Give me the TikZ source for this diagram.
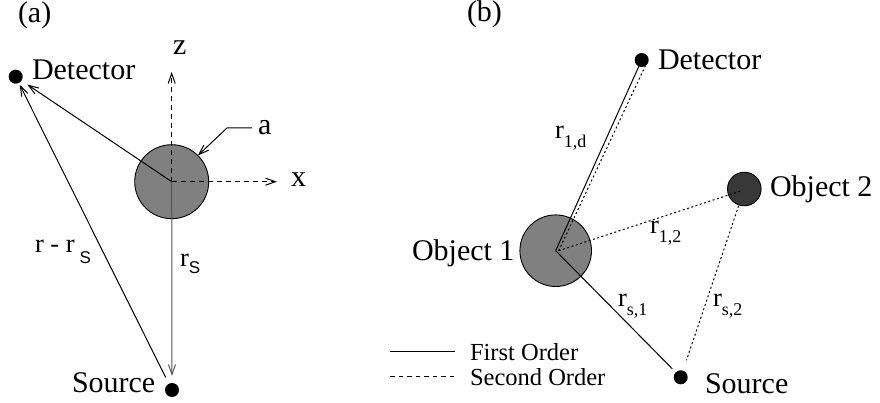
\documentclass[tikz,border=0pt]{standalone}
\usepackage{fontspec}
\setmainfont{Liberation Serif}
\newfontfamily\hsans{Liberation Sans}
\usetikzlibrary{arrows.meta,calc}
\definecolor{objgray}{RGB}{128,128,128}
\definecolor{objdark}{RGB}{56,56,56}
\definecolor{linegray}{RGB}{85,85,85}
\newcommand{\subsz}{\fontsize{18}{20}\selectfont}
\newcommand{\sansub}{\hsans\fontsize{17}{19}\selectfont}
\begin{document}
\begin{tikzpicture}[x=1pt,y=-1pt,
  every node/.style={inner sep=0pt,outer sep=0pt},
  lbl/.style={font=\fontsize{30}{34}\selectfont},
  rlbl/.style={font=\fontsize{26.5}{30}\selectfont},
  sml/.style={font=\fontsize{24.5}{28}\selectfont},
  dot/.style={circle,fill=black,minimum size=14pt},
  ln/.style={line width=1pt},
  arr/.style={ln,-{Straight Barb[length=10pt,width=7pt]}},
  axisln/.style={ln,dash pattern=on 5pt off 4pt},
  dotln/.style={ln,dash pattern=on 2pt off 2.5pt},
  dashln/.style={ln,dash pattern=on 4.5pt off 4pt},
  obj/.style={circle,draw=black,line width=0.9pt}]
\useasboundingbox (0,0) rectangle (880,403);

% ---------- panel (a) ----------
\node[lbl,anchor=base west] (la) at (18,23) {(a)};
\node[obj,fill=objgray,minimum size=74pt] (c1) at (171.7,181.7) {};
\node[dot] (deta) at (15.7,76.7) {};
\node[dot] (srca) at (172,390) {};
\node[lbl,anchor=base west] (detal) at (32,80) {Detector};
\node[lbl,anchor=base west] (srcal) at (72,392) {Source};
\node[lbl,anchor=base west] (zl) at (173,55) {z};
\node[lbl,anchor=base west] (xl) at (291,187) {x};
\node[lbl,anchor=base west] (al) at (258,135) {a};
\coordinate (zend) at (171.7,72);
\coordinate (xend) at (277,181.7);
\coordinate (astart) at (252,128);
\coordinate (abend) at (227,128);

\draw[axisln,-{Straight Barb[length=10pt,width=7pt]}] (c1.center) -- (zend);
\draw[axisln,-{Straight Barb[length=10pt,width=7pt]}] (c1.center) -- (xend);
\draw[arr] (astart) -- (abend) -- (c1.45);
\draw[arr,shorten >=7pt] (c1.center) -- (deta);
\draw[arr,shorten >=2pt,shorten <=7pt] (srca) -- (deta);
\draw[arr,draw=linegray,shorten >=7pt] (c1.center) -- (srca);

\node[rlbl,anchor=base west] (rrs) at (35,253) {r - r\raisebox{-10pt}{\hspace{5pt}\sansub S}};
\node[rlbl,anchor=base west] (rs) at (180,266) {r\raisebox{-7pt}{\sansub S}};

% ---------- panel (b) ----------
\node[lbl,anchor=base west] (lb) at (467,22) {(b)};
\node[obj,fill=objgray,minimum size=71.6pt] (o1) at (555.7,250.7) {};
\node[obj,fill=objdark,minimum size=33.6pt] (o2) at (744.3,189) {};
\node[dot] (detb) at (641.7,60) {};
\node[dot] (srcb) at (680.7,377.3) {};
\node[lbl,anchor=base west] (detbl) at (658,70) {Detector};
\node[lbl,anchor=base west] (o2l) at (770,197) {Object 2};
\node[lbl,anchor=base west] (o1l) at (412,260) {Object 1};
\node[lbl,anchor=base west] (srcbl) at (705,393) {Source};

\draw[ln] (o1.center) -- (detb);
\draw[ln,shorten >=5pt] (o1.center) -- (srcb);
\draw[dotln] ([xshift=3pt]o1.center) -- ([xshift=4pt,yshift=-5pt]detb.center);
\draw[dotln] ([xshift=3pt]o1.center) -- ([xshift=-2pt,yshift=-1.5pt]o2.center);
\draw[dotln,shorten <=1pt,shorten >=11pt] (o2) -- (srcb);

\node[rlbl,anchor=base west] (r1d) at (555,139) {r\raisebox{-8.7pt}{\subsz 1,d}};
\node[rlbl,anchor=base west] (r12) at (650,234) {r\raisebox{-8.7pt}{\subsz 1,2}};
\node[rlbl,anchor=base west] (rs1) at (618,306) {r\raisebox{-9.5pt}{\subsz s,1}};
\node[rlbl,anchor=base west] (rs2) at (713,306) {r\raisebox{-9.5pt}{\subsz s,2}};

% legend
\coordinate (l1a) at (390,351);
\coordinate (l1b) at (455,351);
\coordinate (l2a) at (390,376.7);
\coordinate (l2b) at (455,376.7);
\draw[ln] (l1a) -- (l1b);
\draw[dashln] (l2a) -- (l2b);
\node[sml,anchor=base west] (fo) at (470,360) {First Order};
\node[sml,anchor=base west] (so) at (470,385) {Second Order};
\end{tikzpicture}
\end{document}
